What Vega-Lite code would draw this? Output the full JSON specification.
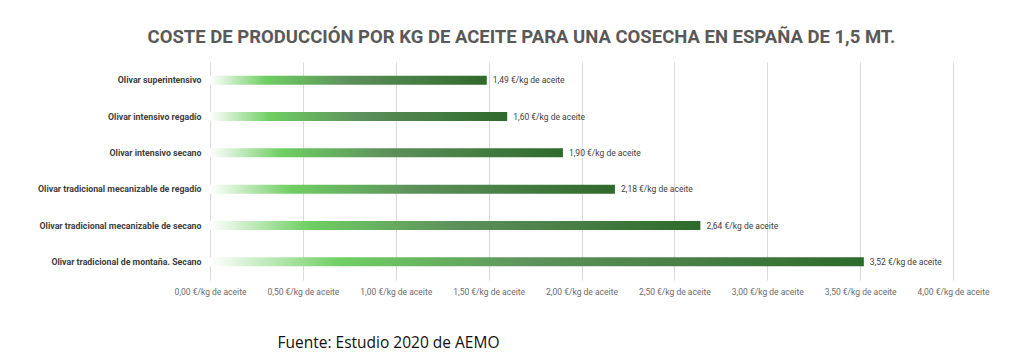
{
  "$schema": "https://vega.github.io/schema/vega-lite/v6.json",
  "autosize": "none",
  "padding": {"left": 210, "top": 62, "right": 71, "bottom": 72},
  "width": 743,
  "height": 218,
  "background": "white",
  "title": {
    "text": "COSTE DE PRODUCCIÓN POR KG DE ACEITE PARA UNA COSECHA EN ESPAÑA DE 1,5 MT.",
    "font": "Roboto",
    "fontSize": 18.5,
    "fontWeight": "bold",
    "color": "#595959",
    "anchor": "middle",
    "dx": -60,
    "offset": 16
  },
  "data": {
    "values": [
      {"tipo": "Olivar superintensivo", "coste": 1.49, "label": "1,49 €/kg de aceite"},
      {"tipo": "Olivar intensivo regadío", "coste": 1.60, "label": "1,60 €/kg de aceite"},
      {"tipo": "Olivar intensivo secano", "coste": 1.90, "label": "1,90 €/kg de aceite"},
      {"tipo": "Olivar tradicional mecanizable de regadío", "coste": 2.18, "label": "2,18 €/kg de aceite"},
      {"tipo": "Olivar tradicional mecanizable de secano", "coste": 2.64, "label": "2,64 €/kg de aceite"},
      {"tipo": "Olivar tradicional de montaña. Secano", "coste": 3.52, "label": "3,52 €/kg de aceite"}
    ]
  },
  "encoding": {
    "y": {
      "field": "tipo",
      "type": "nominal",
      "sort": null,
      "title": null,
      "axis": {
        "domain": false,
        "ticks": false,
        "labelFont": "Roboto",
        "labelFontWeight": "bold",
        "labelFontSize": 8.8,
        "labelColor": "#404040",
        "labelPadding": 9,
        "labelLimit": 300
      }
    },
    "x": {
      "field": "coste",
      "type": "quantitative",
      "scale": {"domain": [0, 4], "nice": false},
      "title": "Fuente: Estudio 2020 de AEMO",
      "axis": {
        "values": [0, 0.5, 1, 1.5, 2, 2.5, 3, 3.5, 4],
        "labelExpr": "replace(format(datum.value, '.2f'), '.', ',') + ' €/kg de aceite'",
        "labelOverlap": false,
        "labelFlush": false,
        "domain": false,
        "ticks": false,
        "grid": true,
        "gridColor": "#d9d9d9",
        "gridWidth": 1,
        "labelFont": "Roboto",
        "labelFontSize": 8.5,
        "labelColor": "#6b6b6b",
        "labelPadding": 7,
        "titleFont": "Open Sans",
        "titleFontSize": 15.5,
        "titleFontWeight": "normal",
        "titleColor": "#111111",
        "titleX": 178,
        "titleY": 67,
        "titleAlign": "center",
        "titleBaseline": "alphabetic"
      }
    }
  },
  "layer": [
    {
      "mark": {
        "type": "bar",
        "size": 9,
        "color": {
          "gradient": "linear",
          "x1": 0, "x2": 1, "y1": 0, "y2": 0,
          "stops": [
            {"offset": 0, "color": "#ffffff"},
            {"offset": 0.2, "color": "#6fcf63"},
            {"offset": 0.5, "color": "#5d915b"},
            {"offset": 1, "color": "#2e6a2b"}
          ]
        }
      }
    },
    {
      "mark": {
        "type": "text",
        "align": "left",
        "dx": 6,
        "font": "Roboto",
        "fontSize": 8.5,
        "color": "#404040"
      },
      "encoding": {
        "text": {"field": "label"}
      }
    }
  ],
  "config": {
    "view": {"stroke": null}
  }
}
